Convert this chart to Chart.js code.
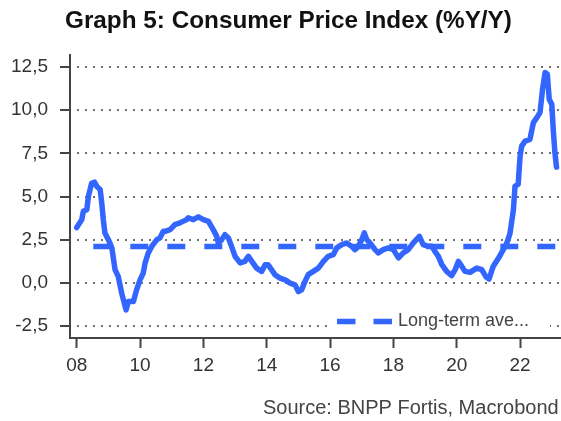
<!DOCTYPE html>
<html><head><meta charset="utf-8">
<script src="https://cdn.jsdelivr.net/npm/chart.js@4.4.0/dist/chart.umd.min.js"></script>
<style>html,body{margin:0;padding:0;background:#fff;}canvas{display:block;}</style>
</head><body>
<canvas id="c" width="561" height="421"></canvas>
<script>
const titleText = 'Graph 5: Consumer Price Index (%Y/Y)';
const sourceText = 'Source: BNPP Fortis, Macrobond';
const seriesLabels = ['Consumer Price Index', 'Long-term ave...'];

const years = [2008.00,2008.16,2008.21,2008.32,2008.37,2008.47,2008.56,2008.63,2008.74,2008.79,2008.84,2008.89,
2009.00,2009.11,2009.21,2009.31,2009.42,2009.53,2009.56,2009.63,2009.79,2009.89,
2010.00,2010.10,2010.16,2010.26,2010.37,2010.53,2010.63,2010.73,2010.79,2010.95,
2011.10,2011.26,2011.47,2011.52,2011.68,2011.84,
2012.00,2012.16,2012.31,2012.42,2012.47,2012.58,2012.68,2012.79,2012.89,
2013.00,2013.16,2013.31,2013.42,2013.53,2013.68,2013.84,2013.95,
2014.04,2014.10,2014.26,2014.42,2014.58,2014.74,2014.89,
2015.00,2015.10,2015.21,2015.31,2015.47,2015.63,2015.79,2015.94,
2016.10,2016.21,2016.37,2016.53,2016.68,2016.79,2016.89,
2017.00,2017.08,2017.16,2017.26,2017.42,2017.52,2017.68,2017.84,
2018.00,2018.16,2018.31,2018.47,2018.63,2018.82,2018.94,
2019.10,2019.21,2019.31,2019.42,2019.53,2019.68,2019.84,2019.95,
2020.05,2020.16,2020.26,2020.42,2020.63,2020.79,2020.92,
2021.02,2021.15,2021.31,2021.47,2021.58,2021.68,2021.79,2021.84,2021.94,
2022.00,2022.05,2022.16,2022.31,2022.42,2022.53,2022.63,2022.71,2022.79,2022.86,2022.92,
2023.00,2023.05,2023.10,2023.15];

const cpi = [3.20,3.66,4.15,4.24,5.02,5.76,5.83,5.60,5.41,4.63,3.66,2.89,
2.50,2.02,0.76,0.37,-0.60,-1.38,-1.57,-1.09,-1.09,-0.41,
0.17,0.56,1.15,1.73,2.11,2.50,2.60,2.98,2.98,3.08,
3.37,3.47,3.66,3.76,3.66,3.82,
3.66,3.56,3.08,2.69,2.31,2.50,2.79,2.60,2.11,
1.53,1.15,1.24,1.53,1.24,0.85,0.66,1.05,
1.05,0.90,0.47,0.27,0.17,-0.02,-0.12,
-0.51,-0.41,0.08,0.47,0.66,0.85,1.24,1.53,
1.63,2.02,2.21,2.31,2.11,1.92,2.11,
2.50,2.89,2.50,2.31,1.92,1.73,1.92,2.02,
1.92,1.44,1.73,1.92,2.31,2.69,2.21,
2.11,2.11,1.82,1.53,1.05,0.66,0.42,0.76,
1.24,0.95,0.66,0.60,0.85,0.76,0.35,
0.22,0.95,1.40,1.92,2.30,2.85,4.24,5.60,5.70,
7.34,7.92,8.21,8.31,9.28,9.57,9.87,11.22,12.19,12.09,10.64,
10.35,8.80,7.54,6.70];

const avgYears = [2008.00, 2023.15];
const avgValues = [2.1, 2.1];

const xTickYears = [2008,2010,2012,2014,2016,2018,2020,2022];
const xTickLabels = ['08','10','12','14','16','18','20','22'];
const yTicks = [-2.5,0,2.5,5,7.5,10,12.5];

const FONT = '"Liberation Sans", Arial, Helvetica, sans-serif';
const BLUE = '#3366ff';

const decor = {
  id: 'decor',
  afterDatasetsDraw(chart) {
    const ctx = chart.ctx;
    const ds = chart.data.datasets[1];
    const ca = chart.chartArea;
    const yb = chart.scales.y.getPixelForValue(yTicks[0]);
    const lx = ca.left + 260, ly = yb - 4.5;
    ctx.save();
    ctx.fillStyle = '#ffffff';
    ctx.fillRect(lx, ly - 12, 220, 25);
    ctx.strokeStyle = ds.borderColor;
    ctx.lineWidth = 5.5;
    ctx.setLineDash([18.5, 18]);
    ctx.beginPath();
    ctx.moveTo(lx + 7, ly);
    ctx.lineTo(lx + 62, ly);
    ctx.stroke();
    ctx.setLineDash([]);
    ctx.fillStyle = '#444444';
    ctx.font = '18px ' + FONT;
    ctx.textBaseline = 'middle';
    ctx.textAlign = 'left';
    ctx.fillText(ds.label, lx + 68, ly);
    ctx.restore();
  },
  afterDraw(chart) {
    const ctx = chart.ctx;
    ctx.save();
    ctx.textBaseline = 'alphabetic';
    ctx.textAlign = 'left';
    ctx.fillStyle = '#111111';
    ctx.font = 'bold 24.3px ' + FONT;
    ctx.fillText(titleText, 65, 28);
    ctx.fillStyle = '#444444';
    ctx.font = '20px ' + FONT;
    ctx.fillText(sourceText, 263, 414);
    ctx.restore();
  }
};

new Chart(document.getElementById('c'), {
  type: 'line',
  data: {
    datasets: [
      {
        label: seriesLabels[0],
        data: years.map((x, i) => ({x: x, y: cpi[i]})),
        borderColor: BLUE,
        borderWidth: 5.5,
        pointRadius: 0,
        tension: 0,
        borderJoinStyle: 'round',
        borderCapStyle: 'round',
        fill: false
      },
      {
        label: seriesLabels[1],
        data: avgYears.map((x, i) => ({x: x, y: avgValues[i]})),
        borderColor: BLUE,
        borderWidth: 5.5,
        borderDash: [18, 19],
        borderDashOffset: 20.4,
        pointRadius: 0,
        fill: false
      }
    ]
  },
  options: {
    responsive: false,
    animation: false,
    devicePixelRatio: 1,
    layout: { padding: { top: 55, left: 0, right: 0, bottom: 0 } },
    plugins: {
      legend: { display: false },
      title: { display: false },
      tooltip: { enabled: false }
    },
    scales: {
      x: {
        type: 'linear',
        min: 2007.788,
        max: 2023.292,
        afterFit: s => { s.height = 83; },
        afterBuildTicks: s => { s.ticks = xTickYears.map(v => ({value: v})); },
        grid: {
          display: true,
          drawOnChartArea: false,
          drawTicks: true,
          tickLength: 10,
          tickColor: '#444444',
          tickWidth: 2
        },
        border: { display: true, color: '#444444', width: 2 },
        ticks: {
          autoSkip: false,
          maxRotation: 0,
          padding: 6,
          color: '#333333',
          font: { family: FONT, size: 19 },
          callback: (v) => xTickLabels[xTickYears.indexOf(v)]
        }
      },
      y: {
        type: 'linear',
        min: -3.2,
        max: 13.2,
        afterFit: s => { s.width = 70; },
        afterBuildTicks: s => { s.ticks = yTicks.map(v => ({value: v})); },
        grid: {
          display: true,
          drawOnChartArea: true,
          drawTicks: true,
          tickLength: 10,
          color: '#707070',
          lineWidth: 2,
          tickColor: '#444444',
          tickWidth: 2,
          tickBorderDash: []
        },
        border: { display: true, color: '#444444', width: 2, dash: [2, 6], dashOffset: 2 },
        ticks: {
          autoSkip: false,
          padding: 12,
          color: '#333333',
          font: { family: FONT, size: 19 },
          callback: (v) => v.toFixed(1).replace('.', ',')
        }
      }
    }
  },
  plugins: [decor]
});
</script>
</body></html>
